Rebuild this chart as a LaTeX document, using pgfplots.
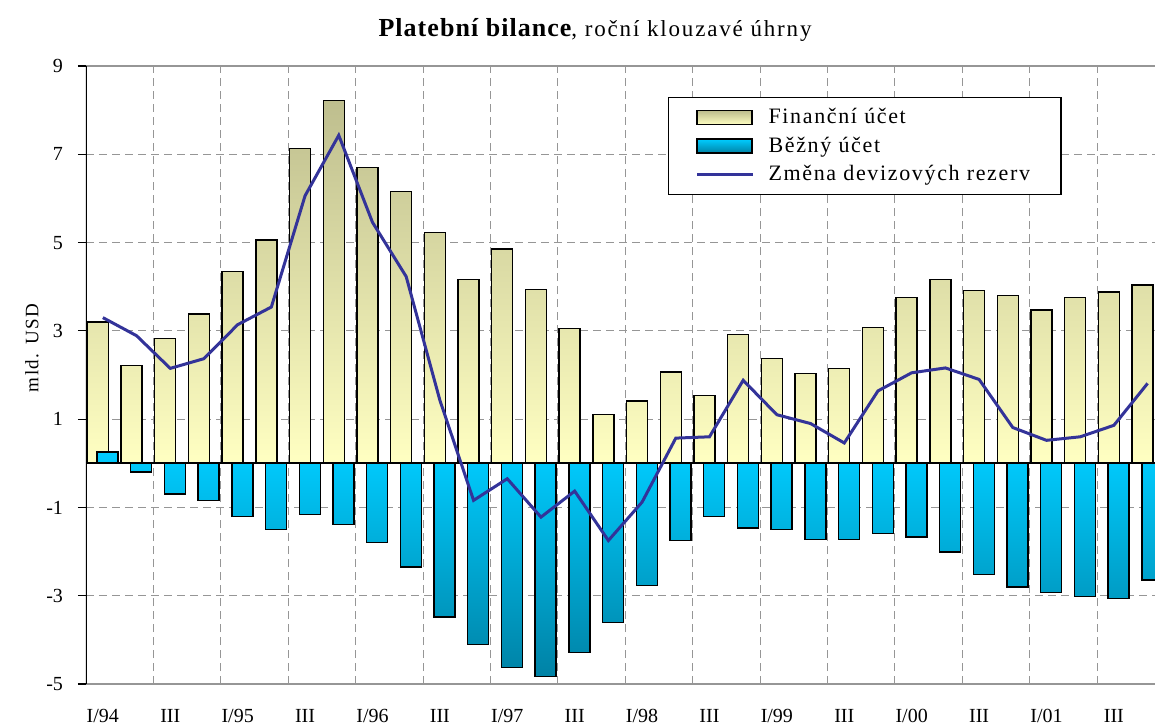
\documentclass[border=0pt]{standalone}
\usepackage{fontspec}
\setmainfont{Liberation Serif}
\usepackage{pgfplots}
\usepackage{pgfplotstable}
\pgfplotsset{compat=1.18}
\definecolor{finTop}{RGB}{190,190,142}
\definecolor{finBot}{RGB}{255,255,194}
\definecolor{curTop}{RGB}{0,204,255}
\definecolor{curBot}{RGB}{0,130,165}
\definecolor{resLine}{RGB}{51,51,153}
\definecolor{gridgray}{RGB}{150,150,150}
\pgfplotsset{
  barlegend/.style={legend image code/.code={\draw[##1] (0pt,-3.5pt) rectangle (27.5pt,3.5pt);}},
  linelegend/.style={legend image code/.code={\draw[##1] (0pt,0pt) -- (28pt,0pt);}},
}

\pgfplotstableread{
q fin cur res
0 3.20 0.26 3.30
1 2.21 -0.20 2.89
2 2.83 -0.70 2.15
3 3.38 -0.84 2.37
4 4.35 -1.21 3.14
5 5.06 -1.50 3.54
6 7.13 -1.16 6.06
7 8.22 -1.38 7.43
8 6.70 -1.80 5.46
9 6.15 -2.35 4.23
10 5.23 -3.48 1.43
11 4.17 -4.11 -0.84
12 4.85 -4.62 -0.35
13 3.93 -4.83 -1.22
14 3.05 -4.28 -0.63
15 1.10 -3.61 -1.75
16 1.41 -2.77 -0.88
17 2.07 -1.75 0.57
18 1.53 -1.21 0.60
19 2.92 -1.47 1.88
20 2.37 -1.50 1.10
21 2.03 -1.72 0.90
22 2.15 -1.72 0.46
23 3.08 -1.59 1.64
24 3.76 -1.67 2.05
25 4.17 -2.01 2.16
26 3.92 -2.52 1.90
27 3.80 -2.80 0.81
28 3.47 -2.93 0.52
29 3.76 -3.02 0.60
30 3.88 -3.06 0.86
31 4.04 -2.64 1.81
}\data

\begin{document}
\begin{tikzpicture}
\begin{axis}[
  at={(0,0)}, anchor=south west,
  scale only axis, width=534.5pt, height=309pt,
  xmin=-0.5, xmax=31.22, ymin=-5, ymax=9,
  enlargelimits=false,
  axis line style={draw=none},
  xtick={0,2,...,30},
  xticklabels={I/94,III,I/95,III,I/96,III,I/97,III,I/98,III,I/99,III,I/00,III,I/01,III},
  minor xtick={1.5,3.5,...,29.5},
  xminorgrids=true, xmajorgrids=false,
  ytick={-5,-3,...,9},
  yticklabels={-5,-3,-1,1,3,5,7,9},
  ymajorgrids=true,
  major grid style={gridgray, dash pattern=on 4pt off 2.5pt, line width=0.5pt},
  minor grid style={gridgray, dash pattern=on 4pt off 2.5pt, line width=0.5pt},
  tick align=outside, ytick pos=left,
  major tick length=4pt,
  xtick style={draw=none},
  ytick style={black, line width=0.6pt},
  tick label style={font=\fontsize{10}{12}\selectfont},
  xticklabel style={yshift=-5pt},
  yticklabel style={xshift=-4pt},
  legend style={at={(0.5444,0.9498)}, anchor=north west, draw=black, line width=0.6pt,
    inner xsep=13.5pt, inner ysep=3.5pt,
    font=\fontsize{11}{13}\selectfont\addfontfeatures{LetterSpace=7.5},
    row sep=1pt,
    /tikz/every odd column/.append style={column sep=5pt}},
  legend cell align=left,
]
\addplot[ybar, bar width=0.623, bar shift=-0.15, draw=black, line width=0.7pt,
  top color=finTop, bottom color=finBot, barlegend]
  table[x=q,y=fin]{\data};
\addlegendentry{Finanční účet}
\addplot[ybar, bar width=0.623, bar shift=0.14, draw=black, line width=0.7pt,
  top color=curTop, bottom color=curBot, barlegend]
  table[x=q,y=cur]{\data};
\addlegendentry{Běžný účet}
\draw[black, line width=0.8pt] (axis cs:-0.5,0) -- (axis cs:31.22,0);
\addplot[resLine, line width=1.5pt, mark=none, linelegend]
  table[x=q,y=res]{\data};
\addlegendentry{Změna devizových rezerv}
\draw[gridgray, line width=0.8pt] (rel axis cs:0,1) -- (rel axis cs:1,1);
\draw[gridgray, line width=0.8pt] (rel axis cs:0,0) -- (rel axis cs:1,0);
\draw[black, line width=0.8pt] (rel axis cs:0,0) -- (rel axis cs:0,1);
\end{axis}
\node at (254.5pt,327pt) {\fontsize{13}{15}\selectfont\bfseries\addfontfeatures{LetterSpace=4}Platební bilance\fontsize{11.5}{13}\selectfont\mdseries\addfontfeatures{LetterSpace=8}, roční klouzavé úhrny};
\node[rotate=90, font=\fontsize{9.5}{11}\selectfont\addfontfeatures{LetterSpace=8}] at (-27pt,168pt) {mld. USD};
\pgfresetboundingbox
\useasboundingbox (-43pt,-20pt) rectangle (534.5pt,342pt);
\end{tikzpicture}
\end{document}
